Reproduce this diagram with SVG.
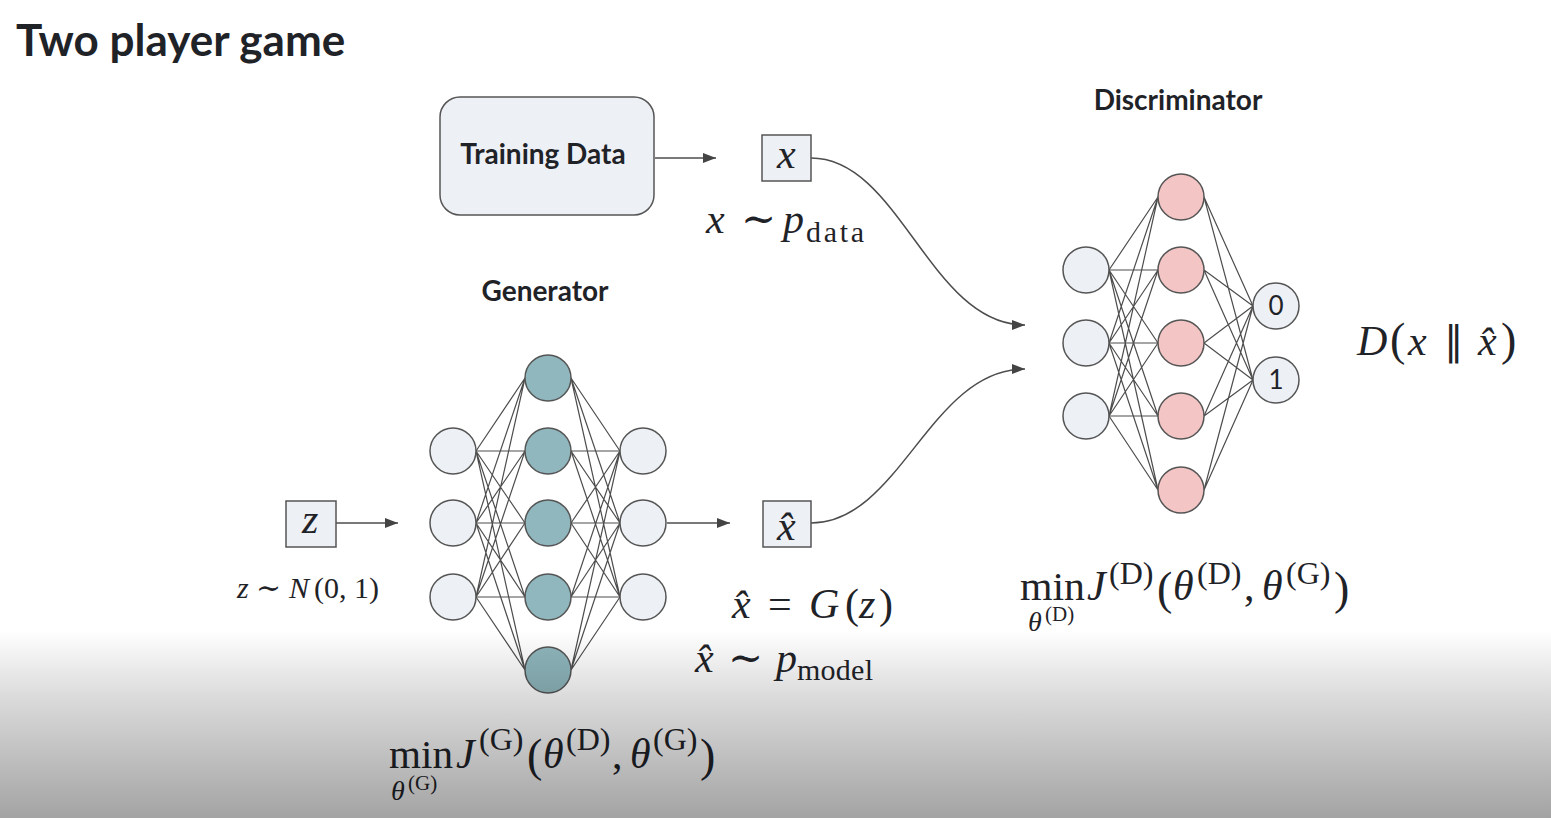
<svg xmlns="http://www.w3.org/2000/svg" width="1551" height="818" viewBox="0 0 1551 818">
<style>
.sans{font-family:Lato,"Open Sans","Liberation Sans",sans-serif;fill:#1f2328}
.lbl{font-weight:bold;font-size:28px;text-anchor:middle}
.m{font-family:"Liberation Serif","DejaVu Serif",serif;fill:#1f2328}
.i{font-style:italic}
.box{fill:#edf0f5;stroke:#555;stroke-width:1.5}
.n{stroke:#555;stroke-width:1.5}
.lt{fill:#edf0f5}
.tl{fill:#8fb7bd}
.pk{fill:#f3c5c5}
.w{stroke:#4d4d4d;stroke-width:1.2;fill:none}
.ar{stroke:#4d4d4d;stroke-width:1.5;fill:none;marker-end:url(#ah)}
</style>
<defs>
<marker id="ah" markerUnits="userSpaceOnUse" markerWidth="14" markerHeight="10" refX="13" refY="5" orient="auto">
<path d="M0,0 L13,5 L0,10 z" fill="#444"/>
</marker>
<linearGradient id="shade" x1="0" y1="0" x2="0" y2="1">
<stop offset="0" stop-color="#000" stop-opacity="0"/>
<stop offset="0.35" stop-color="#000" stop-opacity="0.14"/>
<stop offset="1" stop-color="#000" stop-opacity="0.36"/>
</linearGradient>
</defs>
<rect width="1551" height="818" fill="#fff"/>
<text class="sans" x="16" y="56" font-size="44" font-weight="bold">Two player game</text>

<g id="connectors">
<path class="ar" d="M655,158 L716,158"/>
<path class="ar" d="M336,523 L398,523"/>
<path class="ar" d="M667,523 L730,523"/>
<path class="ar" d="M811,158 C900,158 930,325 1025,325"/>
<path class="ar" d="M811,523 C900,523 930,369 1025,369"/>
<path class="w" d="M476,451L525,378M476,451L525,451M476,451L525,523M476,451L525,597M476,451L525,670M476,523L525,378M476,523L525,451M476,523L525,523M476,523L525,597M476,523L525,670M476,597L525,378M476,597L525,451M476,597L525,523M476,597L525,597M476,597L525,670"/>
<path class="w" d="M571,378L620,451M571,378L620,523M571,378L620,597M571,451L620,451M571,451L620,523M571,451L620,597M571,523L620,451M571,523L620,523M571,523L620,597M571,597L620,451M571,597L620,523M571,597L620,597M571,670L620,451M571,670L620,523M571,670L620,597"/>
<path class="w" d="M1109,270L1158,197M1109,270L1158,270M1109,270L1158,343M1109,270L1158,416M1109,270L1158,490M1109,343L1158,197M1109,343L1158,270M1109,343L1158,343M1109,343L1158,416M1109,343L1158,490M1109,416L1158,197M1109,416L1158,270M1109,416L1158,343M1109,416L1158,416M1109,416L1158,490"/>
<path class="w" d="M1204,197L1253,306M1204,197L1253,380M1204,270L1253,306M1204,270L1253,380M1204,343L1253,306M1204,343L1253,380M1204,416L1253,306M1204,416L1253,380M1204,490L1253,306M1204,490L1253,380"/>
</g>

<g id="training-data">
<rect class="box" x="440" y="97" width="214" height="118" rx="20"/>
<text class="sans lbl" x="543" y="164">Training Data</text>
</g>

<g id="x-box">
<rect class="box" x="762" y="135" width="49" height="46"/>
<text class="m i" x="777" y="168" font-size="42">x</text>
</g>
<g id="x-dist">
<text class="m" y="233" font-size="42"><tspan class="i" x="706">x</tspan><tspan x="741">∼</tspan><tspan class="i" x="783">p</tspan><tspan x="806" y="242" font-size="30" textLength="58" lengthAdjust="spacing">data</tspan></text>
</g>

<g id="generator-label"><text class="sans lbl" x="545" y="301">Generator</text></g>

<g id="z-box">
<rect class="box" x="286" y="501" width="50" height="46"/>
<text class="m i" x="302" y="533" font-size="42">z</text>
</g>
<g id="z-dist">
<text class="m" y="598" font-size="30"><tspan class="i" x="237">z</tspan><tspan x="256">∼</tspan><tspan class="i" x="289">N</tspan><tspan x="314">(0, 1)</tspan></text>
</g>

<g id="generator">
<circle class="n lt" cx="453" cy="451" r="23"/>
<circle class="n lt" cx="453" cy="523" r="23"/>
<circle class="n lt" cx="453" cy="597" r="23"/>
<circle class="n tl" cx="548" cy="378" r="23"/>
<circle class="n tl" cx="548" cy="451" r="23"/>
<circle class="n tl" cx="548" cy="523" r="23"/>
<circle class="n tl" cx="548" cy="597" r="23"/>
<circle class="n tl" cx="548" cy="670" r="23"/>
<circle class="n lt" cx="643" cy="451" r="23"/>
<circle class="n lt" cx="643" cy="523" r="23"/>
<circle class="n lt" cx="643" cy="597" r="23"/>
</g>

<g id="xhat-box">
<rect class="box" x="763" y="501" width="48" height="46"/>
<text class="m i" x="777" y="540" font-size="42">x̂</text>
</g>
<g id="xhat-eq">
<text class="m" y="618" font-size="42"><tspan class="i" x="732">x̂</tspan><tspan x="768">=</tspan><tspan class="i" x="809">G</tspan><tspan x="845">(</tspan><tspan class="i" x="859">z</tspan><tspan x="879">)</tspan></text>
</g>
<g id="xhat-dist">
<text class="m" y="672" font-size="42"><tspan class="i" x="695">x̂</tspan><tspan x="728">∼</tspan><tspan class="i" x="776">p</tspan><tspan x="797" y="680" font-size="30" textLength="76" lengthAdjust="spacing">model</tspan></text>
</g>

<g id="discriminator-label"><text class="sans lbl" x="1178" y="110">Discriminator</text></g>

<g id="discriminator">
<circle class="n lt" cx="1086" cy="270" r="23"/>
<circle class="n lt" cx="1086" cy="343" r="23"/>
<circle class="n lt" cx="1086" cy="416" r="23"/>
<circle class="n pk" cx="1181" cy="197" r="23"/>
<circle class="n pk" cx="1181" cy="270" r="23"/>
<circle class="n pk" cx="1181" cy="343" r="23"/>
<circle class="n pk" cx="1181" cy="416" r="23"/>
<circle class="n pk" cx="1181" cy="490" r="23"/>
<circle class="n lt" cx="1276" cy="306" r="23"/>
<circle class="n lt" cx="1276" cy="380" r="23"/>
<text class="sans" x="1276" y="315" font-size="26" text-anchor="middle">0</text>
<text class="sans" x="1276" y="389" font-size="26" text-anchor="middle">1</text>
</g>

<g id="d-output">
<text class="m" y="355" font-size="42"><tspan class="i" x="1357">D</tspan><tspan x="1390" font-size="46">(</tspan><tspan class="i" x="1408">x</tspan><tspan x="1444" font-family="DejaVu Sans, sans-serif" font-size="40">∥</tspan><tspan class="i" x="1478">x̂</tspan><tspan x="1501" font-size="46">)</tspan></text>
</g>

<g id="d-loss">
<text class="m" y="600" font-size="42"><tspan x="1020" font-size="40" textLength="65" lengthAdjust="spacingAndGlyphs">min</tspan><tspan class="i" x="1087">J</tspan><tspan x="1109" y="584" font-size="32">(D)</tspan><tspan x="1157" y="604" font-size="46">(</tspan><tspan class="i" x="1173" y="600">θ</tspan><tspan x="1197" y="584" font-size="32">(D)</tspan><tspan x="1244" y="600">,</tspan><tspan class="i" x="1262" y="600">θ</tspan><tspan x="1286" y="584" font-size="32">(G)</tspan><tspan x="1334" y="604" font-size="46">)</tspan><tspan class="i" x="1028" y="631" font-size="28">θ</tspan><tspan x="1045" y="621" font-size="21">(D)</tspan></text>
</g>

<g id="g-loss">
<text class="m" y="768" font-size="42"><tspan x="389" font-size="40" textLength="64" lengthAdjust="spacingAndGlyphs">min</tspan><tspan class="i" x="456">J</tspan><tspan x="479" y="750" font-size="32">(G)</tspan><tspan x="527" y="771" font-size="46">(</tspan><tspan class="i" x="543" y="768">θ</tspan><tspan x="566" y="750" font-size="32">(D)</tspan><tspan x="612" y="768">,</tspan><tspan class="i" x="630" y="768">θ</tspan><tspan x="653" y="750" font-size="32">(G)</tspan><tspan x="700" y="771" font-size="46">)</tspan><tspan class="i" x="391" y="800" font-size="28">θ</tspan><tspan x="408" y="790" font-size="21">(G)</tspan></text>
</g>

<rect x="0" y="630" width="1551" height="188" fill="url(#shade)"/>
</svg>
